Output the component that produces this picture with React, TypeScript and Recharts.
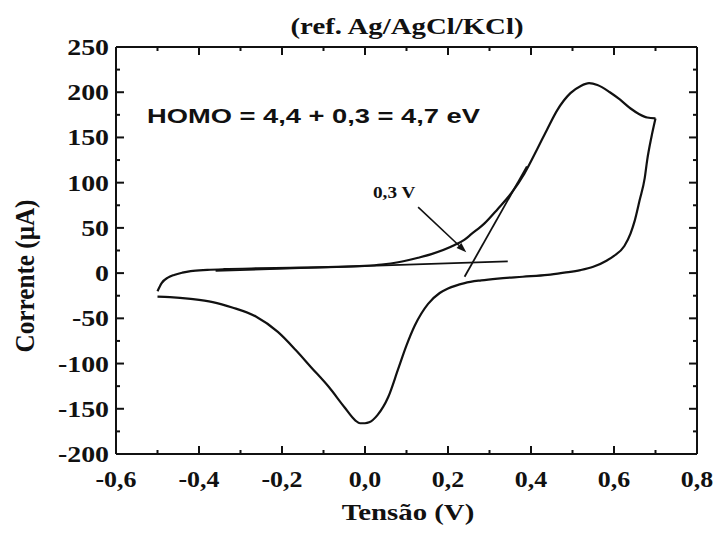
import React from 'react';
import { LineChart, Line, XAxis, YAxis, ReferenceLine } from 'recharts';

// Forward (anodic) scan: potential (V) and current (µA)
const forwardV = [-0.5, -0.49, -0.475, -0.46, -0.44, -0.42, -0.38, -0.34, -0.26, -0.18, -0.09, 0.0, 0.04, 0.08, 0.128, 0.16, 0.216, 0.24, 0.256, 0.288, 0.32, 0.352, 0.384, 0.416, 0.44, 0.463, 0.495, 0.52, 0.54, 0.56, 0.59, 0.614, 0.64, 0.66, 0.68, 0.7];
const forwardI = [-20, -11, -5, -2, 0.5, 2.2, 3.5, 4.3, 5.2, 5.8, 6.6, 8, 9.5, 12, 17, 21, 31, 37, 43, 55, 71, 88, 110, 138, 160, 180, 199, 207, 210, 208, 200, 192, 182, 176, 172, 171];

// Reverse (cathodic) scan
const reverseV = [0.7, 0.69, 0.68, 0.674, 0.662, 0.65, 0.64, 0.625, 0.6, 0.583, 0.55, 0.519, 0.48, 0.44, 0.38, 0.32, 0.28, 0.24, 0.2, 0.18, 0.152, 0.12, 0.1, 0.08, 0.056, 0.03, 0.01, 0.0, -0.012, -0.023, -0.05, -0.087, -0.13, -0.167, -0.21, -0.263, -0.32, -0.367, -0.42, -0.47, -0.5];
const reverseI = [171, 150, 125, 105, 81, 58, 44, 30, 19, 14, 7, 3.3, 0.5, -2, -4, -6, -8, -11, -17, -22, -34, -58, -80, -106, -137, -157, -165, -166, -166, -163, -148, -126, -104, -85, -65, -48, -38, -32, -28.5, -26.5, -26];

// Onset construction lines
const tangentV = [0.24, 0.39];
const tangentI = [-4, 118];
const baselineV = [-0.36, 0.344];
const baselineI = [2.5, 13];
const arrowV = [0.128, 0.244];
const arrowI = [73, 23];

const xTickValues = [-0.6, -0.5, -0.4, -0.3, -0.2, -0.1, 0, 0.1, 0.2, 0.3, 0.4, 0.5, 0.6, 0.7, 0.8];
const xTickLabels = ['-0,6', '', '-0,4', '', '-0,2', '', '0,0', '', '0,2', '', '0,4', '', '0,6', '', '0,8'];
const yTickValues = [-200, -175, -150, -125, -100, -75, -50, -25, 0, 25, 50, 75, 100, 125, 150, 175, 200, 225, 250];
const yTickLabels = ['-200', '', '-150', '', '-100', '', '-50', '', '0', '', '50', '', '100', '', '150', '', '200', '', '250'];

const titleText = '(ref. Ag/AgCl/KCl)';
const xAxisTitle = 'Tensão (V)';
const yAxisTitle = 'Corrente (μA)';
const homoText = 'HOMO = 4,4 + 0,3 = 4,7 eV';
const arrowText = '0,3 V';

const toPts = (xs: number[], ys: number[]) => xs.map((v, k) => ({ v, i: ys[k] }));
const forwardData = toPts(forwardV, forwardI);
const reverseData = toPts(reverseV, reverseI);
const tangentData = toPts(tangentV, tangentI);
const baselineData = toPts(baselineV, baselineI);

const SERIF = "'Liberation Serif', 'Times New Roman', serif";
const SANS = "'Liberation Sans', Arial, sans-serif";
const INK = '#111';

const findIdx = (arr: number[], v: number) => arr.findIndex((t) => Math.abs(t - v) < 1e-9);

const tickTextStyle: React.CSSProperties = { fontFamily: SERIF, fontWeight: 700, fontSize: 24 };

const BottomTick = (props: any) => {
  const { x, y, payload } = props;
  const idx = findIdx(xTickValues, payload.value);
  const label = idx >= 0 ? xTickLabels[idx] : '';
  const len = label ? 8 : 4;
  return (
    <g>
      <line x1={x} y1={y} x2={x} y2={y - len} stroke={INK} strokeWidth={2} />
      {label ? (
        <text transform={`translate(${x},${y + 33}) scale(1.08,1)`} textAnchor="middle" fill={INK} style={tickTextStyle}>
          {label}
        </text>
      ) : null}
    </g>
  );
};

const TopTick = (props: any) => {
  const { x, y, payload } = props;
  const idx = findIdx(xTickValues, payload.value);
  const len = idx >= 0 && xTickLabels[idx] ? 8 : 4;
  return <line x1={x} y1={y} x2={x} y2={y + len} stroke={INK} strokeWidth={2} />;
};

const LeftTick = (props: any) => {
  const { x, y, payload } = props;
  const idx = findIdx(yTickValues, payload.value);
  const label = idx >= 0 ? yTickLabels[idx] : '';
  const len = label ? 8 : 4;
  return (
    <g>
      <line x1={x} y1={y} x2={x + len} y2={y} stroke={INK} strokeWidth={2} />
      {label ? (
        <text transform={`translate(${x - 7},${y + 8}) scale(1.16,1)`} textAnchor="end" fill={INK} style={tickTextStyle}>
          {label}
        </text>
      ) : null}
    </g>
  );
};

const RightTick = (props: any) => {
  const { x, y, payload } = props;
  const idx = findIdx(yTickValues, payload.value);
  const len = idx >= 0 && yTickLabels[idx] ? 8 : 4;
  return <line x1={x} y1={y} x2={x - len} y2={y} stroke={INK} strokeWidth={2} />;
};

const ArrowShape = (p: any) => {
  const { x1, y1, x2, y2 } = p;
  const dx = x2 - x1;
  const dy = y2 - y1;
  const L = Math.sqrt(dx * dx + dy * dy) || 1;
  const ux = dx / L;
  const uy = dy / L;
  const hl = 10;
  const hw = 3.5;
  const bx = x2 - ux * hl;
  const by = y2 - uy * hl;
  const pts = `${x2},${y2} ${bx - uy * hw},${by + ux * hw} ${bx + uy * hw},${by - ux * hw}`;
  return (
    <g>
      <line x1={x1} y1={y1} x2={bx} y2={by} stroke={INK} strokeWidth={1.6} />
      <polygon points={pts} fill={INK} />
    </g>
  );
};

const axisLine = { stroke: INK, strokeWidth: 2 };

export default function App() {
  return (
    <div style={{ position: 'relative', width: 721, height: 533, margin: '-8px 0 0 -8px', background: '#fff', overflow: 'hidden' }}>
      <LineChart width={721} height={533} margin={{ top: 42, right: 19, bottom: 39, left: 56 }}>
        <XAxis xAxisId="b" type="number" dataKey="v" domain={[-0.6, 0.8]} ticks={xTickValues} interval={0} height={40}
          tickSize={0} tickMargin={0} tickLine={false} axisLine={axisLine} tick={<BottomTick />} allowDataOverflow />
        <XAxis xAxisId="t" orientation="top" type="number" dataKey="v" domain={[-0.6, 0.8]} ticks={xTickValues} interval={0} height={5}
          tickSize={0} tickMargin={0} tickLine={false} axisLine={axisLine} tick={<TopTick />} allowDataOverflow />
        <YAxis yAxisId="l" type="number" domain={[-200, 250]} ticks={yTickValues} interval={0} width={60}
          tickSize={0} tickMargin={0} tickLine={false} axisLine={axisLine} tick={<LeftTick />} allowDataOverflow />
        <YAxis yAxisId="r" orientation="right" type="number" domain={[-200, 250]} ticks={yTickValues} interval={0} width={5}
          tickSize={0} tickMargin={0} tickLine={false} axisLine={axisLine} tick={<RightTick />} allowDataOverflow />
        <Line xAxisId="b" yAxisId="l" data={forwardData} dataKey="i" type="monotone" stroke={INK} strokeWidth={2.2} dot={false} isAnimationActive={false} />
        <Line xAxisId="b" yAxisId="l" data={reverseData} dataKey="i" type="monotone" stroke={INK} strokeWidth={2.2} dot={false} isAnimationActive={false} />
        <Line xAxisId="b" yAxisId="l" data={baselineData} dataKey="i" type="linear" stroke={INK} strokeWidth={1.8} dot={false} isAnimationActive={false} />
        <Line xAxisId="b" yAxisId="l" data={tangentData} dataKey="i" type="linear" stroke={INK} strokeWidth={1.8} dot={false} isAnimationActive={false} />
        <ReferenceLine xAxisId="b" yAxisId="l"
          segment={[{ x: arrowV[0], y: arrowI[0] }, { x: arrowV[1], y: arrowI[1] }]}
          shape={ArrowShape} />
      </LineChart>
      <svg width={721} height={533} style={{ position: 'absolute', left: 0, top: 0, pointerEvents: 'none' }}>
        <text transform="translate(407,34) scale(1.2,1)" textAnchor="middle" fill={INK}
          style={{ fontFamily: SERIF, fontWeight: 700, fontSize: 24 }}>{titleText}</text>
        <text transform="translate(408,520) scale(1.2,1)" textAnchor="middle" fill={INK}
          style={{ fontFamily: SERIF, fontWeight: 700, fontSize: 24 }}>{xAxisTitle}</text>
        <text transform="translate(34,276) rotate(-90) scale(1.05,1.15)" textAnchor="middle" fill={INK}
          style={{ fontFamily: SERIF, fontWeight: 700, fontSize: 24 }}>{yAxisTitle}</text>
        <text transform="translate(147,123) scale(1.3,1)" textAnchor="start" fill={INK}
          style={{ fontFamily: SANS, fontWeight: 700, fontSize: 21 }}>{homoText}</text>
        <text transform="translate(373,198) scale(1.2,1)" textAnchor="start" fill={INK}
          style={{ fontFamily: SERIF, fontWeight: 700, fontSize: 16 }}>{arrowText}</text>
      </svg>
    </div>
  );
}
